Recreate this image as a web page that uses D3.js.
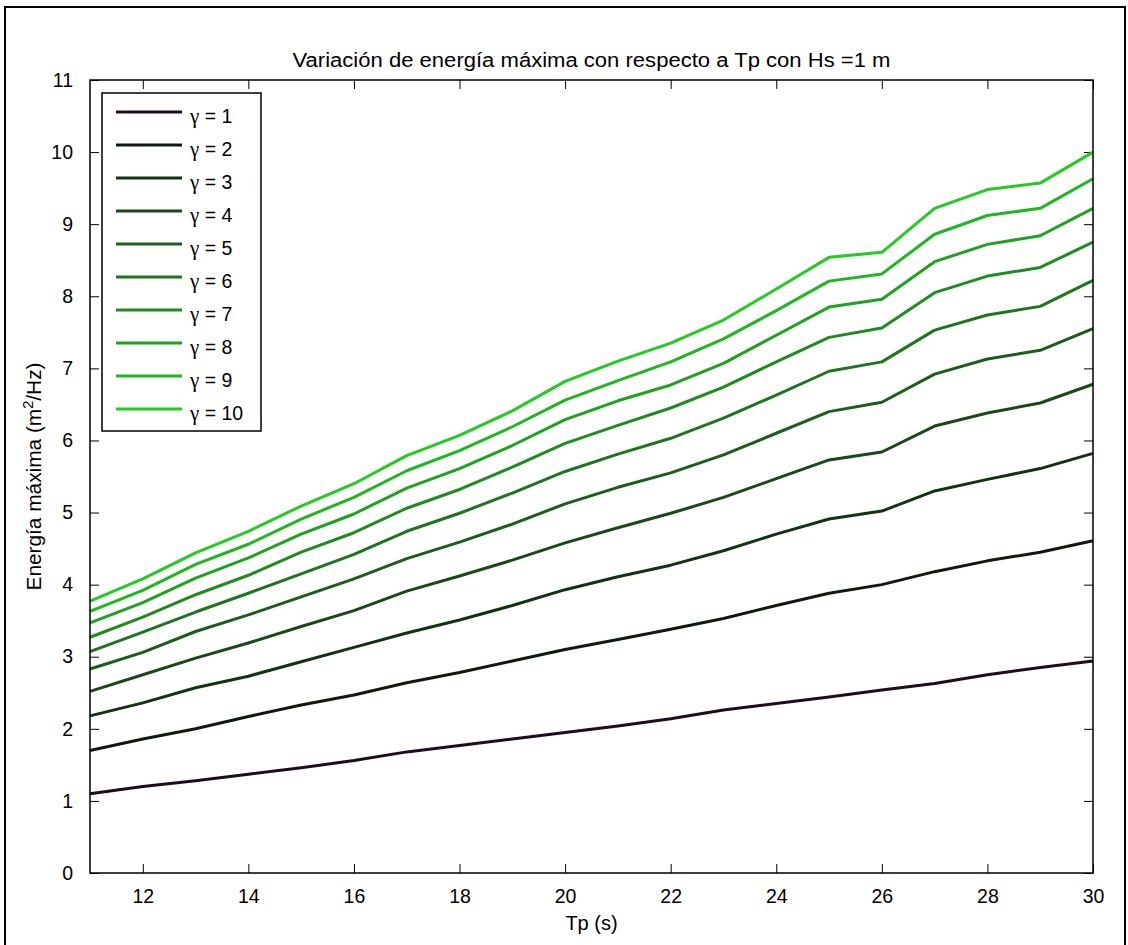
<!DOCTYPE html>
<html>
<head>
<meta charset="utf-8">
<script src="https://cdn.jsdelivr.net/npm/d3@7"></script>
<style>
  html, body { margin: 0; padding: 0; background: #fff; }
  svg { display: block; font-family: "Liberation Sans", Arial, sans-serif; }
</style>
</head>
<body>
<svg id="chart" width="1128" height="945"></svg>
<script>
// Peak period Tp (s)
const tp = [11, 12, 13, 14, 15, 16, 17, 18, 19, 20, 21, 22, 23, 24, 25, 26, 27, 28, 29, 30];

// Peak spectral energy (m^2/Hz) for each peak-enhancement factor gamma
const gamma1  = [1.10, 1.20, 1.28, 1.37, 1.46, 1.56, 1.68, 1.77, 1.86, 1.95, 2.04, 2.14, 2.26, 2.35, 2.44, 2.54, 2.63, 2.75, 2.85, 2.94];
const gamma2  = [1.70, 1.86, 2.00, 2.17, 2.33, 2.47, 2.64, 2.78, 2.94, 3.10, 3.24, 3.38, 3.53, 3.71, 3.88, 4.00, 4.18, 4.33, 4.45, 4.61];
const gamma3  = [2.18, 2.36, 2.57, 2.73, 2.93, 3.13, 3.33, 3.51, 3.71, 3.93, 4.11, 4.27, 4.47, 4.70, 4.91, 5.02, 5.30, 5.46, 5.61, 5.82];
const gamma4  = [2.52, 2.75, 2.98, 3.19, 3.42, 3.64, 3.91, 4.12, 4.34, 4.58, 4.79, 4.99, 5.21, 5.47, 5.73, 5.84, 6.20, 6.38, 6.52, 6.78];
const gamma5  = [2.83, 3.06, 3.35, 3.58, 3.83, 4.08, 4.36, 4.59, 4.84, 5.12, 5.35, 5.55, 5.80, 6.10, 6.40, 6.53, 6.92, 7.13, 7.25, 7.55];
const gamma6  = [3.07, 3.34, 3.62, 3.88, 4.15, 4.42, 4.74, 4.99, 5.27, 5.57, 5.81, 6.03, 6.31, 6.63, 6.96, 7.09, 7.53, 7.74, 7.86, 8.22];
const gamma7  = [3.27, 3.55, 3.86, 4.13, 4.45, 4.72, 5.06, 5.32, 5.63, 5.96, 6.21, 6.45, 6.74, 7.09, 7.43, 7.56, 8.05, 8.28, 8.40, 8.75];
const gamma8  = [3.47, 3.75, 4.09, 4.37, 4.70, 4.98, 5.34, 5.61, 5.93, 6.29, 6.55, 6.77, 7.07, 7.46, 7.85, 7.96, 8.48, 8.72, 8.84, 9.22];
const gamma9  = [3.63, 3.92, 4.28, 4.56, 4.91, 5.21, 5.58, 5.86, 6.19, 6.56, 6.83, 7.09, 7.41, 7.80, 8.21, 8.31, 8.86, 9.12, 9.22, 9.63];
const gamma10 = [3.77, 4.08, 4.44, 4.74, 5.09, 5.40, 5.79, 6.07, 6.41, 6.82, 7.10, 7.35, 7.67, 8.10, 8.54, 8.61, 9.22, 9.48, 9.57, 10.00];

const seriesValues = [gamma1, gamma2, gamma3, gamma4, gamma5, gamma6, gamma7, gamma8, gamma9, gamma10];
const seriesGammas = [1, 2, 3, 4, 5, 6, 7, 8, 9, 10];
const seriesColors = ["#1e0c1e", "#0f1a0f", "#133213", "#194819", "#1a5e1a", "#1d761d", "#1e8c1e", "#1ea31e", "#1fb71f", "#22cc22"];

const xTicks = [12, 14, 16, 18, 20, 22, 24, 26, 28, 30];
const yTicks = [0, 1, 2, 3, 4, 5, 6, 7, 8, 9, 10, 11];

const titleText = "Variación de energía máxima con respecto a Tp con Hs =1 m";
const xLabelText = "Tp (s)";

const svg = d3.select("#chart");
const W = 1128, H = 945;
const plot = { left: 90, right: 1093, top: 80, bottom: 873 };

const x = d3.scaleLinear().domain([11, 30]).range([plot.left, plot.right]);
const y = d3.scaleLinear().domain([0, 11]).range([plot.bottom, plot.top]);

// figure background and frame
svg.append("rect").attr("width", W).attr("height", H).attr("fill", "#fff");
svg.append("rect")
  .attr("x", 5).attr("y", 7).attr("width", 1120).attr("height", 960)
  .attr("fill", "none").attr("stroke", "#000").attr("stroke-width", 2);

// axes (ticks point inward, on all four sides)
const tickLen = 9;
const fontSize = 19.5;

const gBottom = svg.append("g").attr("transform", `translate(0,${plot.bottom})`)
  .call(d3.axisBottom(x).tickValues(xTicks).tickSizeInner(-tickLen).tickSizeOuter(0).tickPadding(tickLen + 7));
const gTop = svg.append("g").attr("transform", `translate(0,${plot.top})`)
  .call(d3.axisTop(x).tickValues(xTicks).tickSizeInner(-tickLen).tickSizeOuter(0).tickFormat(""));
const gLeft = svg.append("g").attr("transform", `translate(${plot.left},0)`)
  .call(d3.axisLeft(y).tickValues(yTicks).tickSizeInner(-tickLen).tickSizeOuter(0).tickPadding(tickLen + 8));
const gRight = svg.append("g").attr("transform", `translate(${plot.right},0)`)
  .call(d3.axisRight(y).tickValues(yTicks).tickSizeInner(-tickLen).tickSizeOuter(0).tickFormat(""));

[gBottom, gTop, gLeft, gRight].forEach(g => {
  g.select(".domain").remove();
  g.selectAll(".tick line").attr("stroke", "#000").attr("stroke-width", 1);
  g.selectAll(".tick text")
    .attr("fill", "#000")
    .attr("font-size", fontSize)
    .attr("font-family", "'Liberation Sans', Arial, sans-serif");
});

// data lines
const line = d3.line()
  .x((d, i) => x(tp[i]))
  .y(d => y(d));

svg.append("g")
  .selectAll("path")
  .data(seriesValues)
  .join("path")
  .attr("d", d => line(d))
  .attr("fill", "none")
  .attr("stroke", (d, i) => seriesColors[i])
  .attr("stroke-width", 3)
  .attr("stroke-linejoin", "round");

// plot box
svg.append("rect")
  .attr("x", plot.left).attr("y", plot.top)
  .attr("width", plot.right - plot.left).attr("height", plot.bottom - plot.top)
  .attr("fill", "none").attr("stroke", "#000").attr("stroke-width", 1.5);

// title and axis labels
svg.append("text")
  .attr("x", (plot.left + plot.right) / 2).attr("y", 67)
  .attr("text-anchor", "middle").attr("font-size", 20)
  .attr("textLength", 598).attr("lengthAdjust", "spacingAndGlyphs")
  .text(titleText);

svg.append("text")
  .attr("x", (plot.left + plot.right) / 2).attr("y", 930)
  .attr("text-anchor", "middle").attr("font-size", 20)
  .text(xLabelText);

const yLabel = svg.append("text")
  .attr("transform", `translate(41,${(plot.top + plot.bottom) / 2}) rotate(-90)`)
  .attr("text-anchor", "middle").attr("font-size", 20)
  .attr("textLength", 228).attr("lengthAdjust", "spacingAndGlyphs");
yLabel.append("tspan").text("Energía máxima (m");
yLabel.append("tspan").attr("dy", -8).attr("font-size", 14).text("2");
yLabel.append("tspan").attr("dy", 8).text("/Hz)");

// legend
const legend = { x: 102, y: 93, w: 159, h: 338, rowTop: 112, rowStep: 33 };
svg.append("rect")
  .attr("x", legend.x).attr("y", legend.y).attr("width", legend.w).attr("height", legend.h)
  .attr("fill", "#fff").attr("stroke", "#000").attr("stroke-width", 1.5);

const rows = svg.append("g").selectAll("g")
  .data(seriesGammas)
  .join("g")
  .attr("transform", (d, i) => `translate(0,${legend.rowTop + i * legend.rowStep})`);
rows.append("line")
  .attr("x1", 116).attr("x2", 182).attr("y1", 0).attr("y2", 0)
  .attr("stroke", (d, i) => seriesColors[i]).attr("stroke-width", 3);
const labels = rows.append("text")
  .attr("x", 190).attr("y", 11)
  .attr("font-size", fontSize);
labels.append("tspan")
  .attr("font-family", "'Liberation Serif', 'Times New Roman', serif")
  .attr("font-size", 21)
  .text("γ");
labels.append("tspan")
  .text(d => " = " + d);
</script>
</body>
</html>
